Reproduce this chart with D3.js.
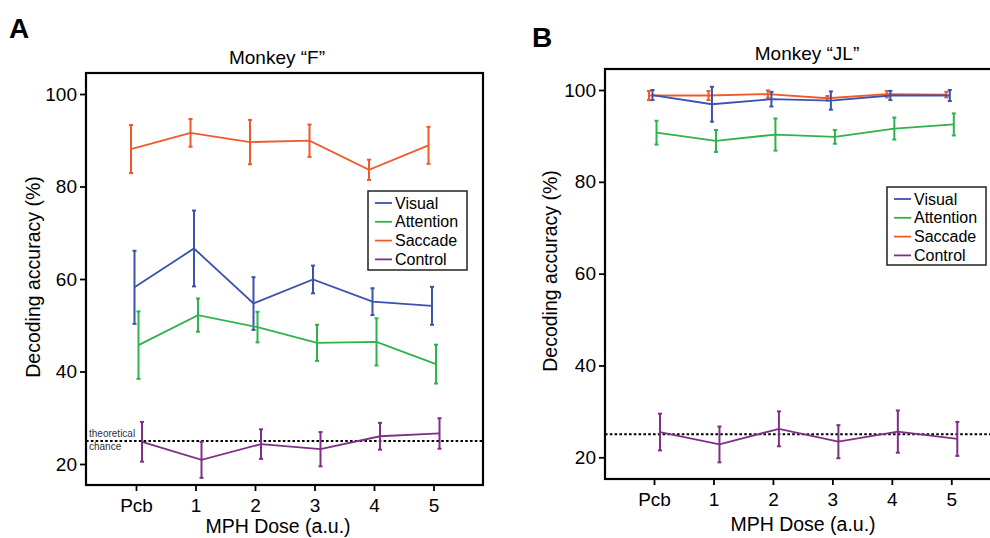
<!DOCTYPE html>
<html><head><meta charset="utf-8">
<script src="https://cdn.jsdelivr.net/npm/d3@7"></script>
<style>body{margin:0;background:#fff}text{font-family:"Liberation Sans",Arial,sans-serif}</style>
</head><body><svg id="c" width="990" height="538"></svg>
<script>
const doses = ["Pcb","1","2","3","4","5"];
const seriesNames = ["Visual","Attention","Saccade","Control"];
const colors = ["#3a52b0","#2eb24a","#f05a28","#7e2f86"];
const yTicks = [20,40,60,80,100];
const chance = 25;

// Monkey F
const F_visual = [58.2,66.6,54.7,59.9,55.1,54.2];
const F_visualErr = [7.9,8.2,5.7,3.0,2.9,4.1];
const F_attention = [45.7,52.2,49.6,46.2,46.4,41.6];
const F_attentionErr = [7.3,3.6,3.3,3.9,5.1,4.2];
const F_saccade = [88.1,91.6,89.6,89.9,83.6,88.9];
const F_saccadeErr = [5.2,3.0,4.8,3.5,2.2,4.0];
const F_control = [24.8,20.9,24.3,23.2,26.0,26.6];
const F_controlErr = [4.3,3.9,3.2,3.7,2.9,3.3];

// Monkey JL
const JL_visual = [98.9,96.9,98.0,97.7,98.8,98.8];
const JL_visualErr = [1.1,3.8,1.6,2.0,1.0,1.2];
const JL_attention = [90.7,88.9,90.3,89.8,91.6,92.5];
const JL_attentionErr = [2.6,2.4,3.5,1.5,2.4,2.4];
const JL_saccade = [98.8,98.8,99.1,98.2,99.1,99.0];
const JL_saccadeErr = [1.0,1.0,0.8,0.5,0.7,0.6];
const JL_control = [25.5,22.8,26.2,23.4,25.6,24.0];
const JL_controlErr = [4.0,3.9,3.8,3.6,4.6,3.7];

const svg = d3.select("#c");
const offsets = [-1.5, 2.5, -5, 6];

function panel(cfg){
  const g = svg.append("g");
  const x = d3.scalePoint().domain(doses).range([cfg.x0, cfg.x1]);
  const y = d3.scaleLinear().domain([20,100]).range([cfg.y20, cfg.y100]);
  const F = cfg.frame;
  g.append("line").attr("x1",F.l).attr("x2",F.r).attr("y1",y(chance)).attr("y2",y(chance))
    .attr("stroke","#000").attr("stroke-width",2).attr("stroke-dasharray","2.6,2.2");
  if(cfg.chanceLabel){
    g.append("text").attr("x",F.l+3).attr("y",y(chance)-4).attr("font-size",10).attr("fill","#333").text("theoretical");
    g.append("text").attr("x",F.l+3).attr("y",y(chance)+9).attr("font-size",10).attr("fill","#333").text("chance");
  }
  const order = [2,0,1,3];
  order.forEach(si=>{
    const vals = cfg.data[si], errs = cfg.errs[si], col = colors[si], off = offsets[si];
    const pts = doses.map((d,i)=>({x:x(d)+off, v:vals[i], e:errs[i]}));
    g.append("path").attr("d", d3.line().x(p=>p.x).y(p=>y(p.v))(pts))
      .attr("fill","none").attr("stroke",col).attr("stroke-width",1.8);
    const eb = g.append("g").attr("stroke",col).attr("stroke-width",2);
    pts.forEach(p=>{
      eb.append("line").attr("x1",p.x).attr("x2",p.x).attr("y1",y(p.v+p.e)).attr("y2",y(p.v-p.e));
      eb.append("line").attr("x1",p.x-2).attr("x2",p.x+2).attr("y1",y(p.v+p.e)).attr("y2",y(p.v+p.e));
      eb.append("line").attr("x1",p.x-2).attr("x2",p.x+2).attr("y1",y(p.v-p.e)).attr("y2",y(p.v-p.e));
    });
  });
  g.append("rect").attr("x",F.l).attr("y",F.t).attr("width",F.r-F.l).attr("height",F.b-F.t)
    .attr("fill","none").attr("stroke","#000").attr("stroke-width",2.2);
  const ya = g.append("g").attr("transform",`translate(${F.l},0)`)
    .call(d3.axisLeft(y).tickValues(yTicks).tickSize(6).tickPadding(3));
  ya.select(".domain").remove();
  ya.selectAll("line").attr("stroke","#000").attr("stroke-width",1.8);
  ya.selectAll("text").attr("font-size",19).attr("fill","#000").attr("font-family","Liberation Sans, Arial, sans-serif");
  const xa = g.append("g").attr("transform",`translate(0,${F.b})`)
    .call(d3.axisBottom(x).tickSize(6).tickPadding(8));
  xa.select(".domain").remove();
  xa.selectAll("line").attr("stroke","#000").attr("stroke-width",1.8);
  xa.selectAll("text").attr("font-size",19).attr("fill","#000").attr("font-family","Liberation Sans, Arial, sans-serif");
  g.append("text").attr("x",cfg.titleX).attr("y",cfg.titleY).attr("text-anchor","middle").attr("font-size",19).text(cfg.title);
  g.append("text").attr("x",cfg.xLabelX).attr("y",cfg.xLabelY).attr("text-anchor","middle").attr("font-size",19.5).text("MPH Dose (a.u.)");
  g.append("text").attr("transform",`translate(${cfg.yLabelX},${cfg.yLabelY}) rotate(-90)`).attr("text-anchor","middle").attr("font-size",19.5).text("Decoding accuracy (%)");
  g.append("text").attr("x",cfg.letterX).attr("y",cfg.letterY).attr("font-size",28).attr("font-weight","bold").text(cfg.letter);
  const L = cfg.legend;
  g.append("rect").attr("x",L.x).attr("y",L.y).attr("width",L.w).attr("height",L.h)
    .attr("fill","#fff").attr("stroke","#222").attr("stroke-width",1.5);
  seriesNames.forEach((n,i)=>{
    const yy = L.y + 12 + i*18.8;
    g.append("line").attr("x1",L.x+7).attr("x2",L.x+24).attr("y1",yy).attr("y2",yy).attr("stroke",colors[i]).attr("stroke-width",1.8);
    g.append("text").attr("x",L.x+27).attr("y",yy+5.5).attr("font-size",16).text(n);
  });
}

panel({x0:136,x1:433.5,y20:464,y100:94,frame:{l:86,t:73,r:483,b:485},
  data:[F_visual,F_attention,F_saccade,F_control],errs:[F_visualErr,F_attentionErr,F_saccadeErr,F_controlErr],
  chanceLabel:true,title:"Monkey “F”",titleX:277,titleY:64,xLabelX:278,xLabelY:533,yLabelX:40,yLabelY:277,
  letter:"A",letterX:9,letterY:38,legend:{x:368,y:191,w:99,h:79}});
panel({x0:654,x1:951.3,y20:457.3,y100:90,frame:{l:605,t:69,r:1000,b:479},
  data:[JL_visual,JL_attention,JL_saccade,JL_control],errs:[JL_visualErr,JL_attentionErr,JL_saccadeErr,JL_controlErr],
  chanceLabel:false,title:"Monkey “JL”",titleX:807,titleY:60,xLabelX:803,xLabelY:531,yLabelX:557,yLabelY:271,
  letter:"B",letterX:532,letterY:47,legend:{x:887,y:187,w:99,h:78}});
</script></body></html>
